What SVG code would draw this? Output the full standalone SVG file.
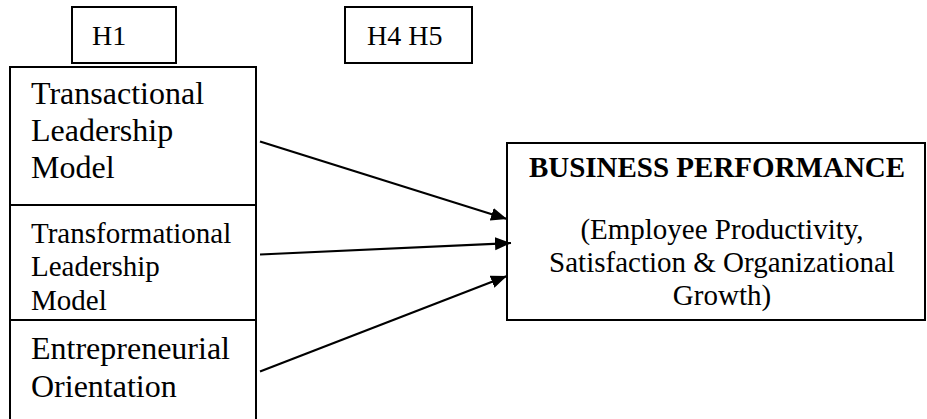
<svg xmlns="http://www.w3.org/2000/svg" width="927" height="419" viewBox="0 0 927 419">
<style>
.box{fill:#fff;stroke:#000;stroke-width:2}
.t{font-family:"Liberation Serif","Times New Roman",serif;fill:#000}
.c{text-anchor:middle}
.b{font-weight:bold}
.ln{stroke:#000;stroke-width:2.2;fill:none;marker-end:url(#ah)}
</style>
<defs>
<marker id="ah" markerUnits="userSpaceOnUse" markerWidth="18" markerHeight="14" refX="16" refY="6.5" orient="auto">
<path d="M0,0 L16,6.5 L0,13 z" fill="#000"/>
</marker>
</defs>
<g id="h1">
<rect class="box" x="72" y="7" width="104" height="56"/>
<text class="t" x="92" y="45" font-size="28">H1</text>
</g>
<g id="h4h5">
<rect class="box" x="345" y="7" width="127" height="56"/>
<text class="t" x="367" y="45" font-size="28">H4 H5</text>
</g>
<g id="transactional">
<rect class="box" x="10" y="67" width="246" height="138"/>
<text class="t" font-size="32"><tspan x="31" y="104">Transactional</tspan><tspan x="31" y="141">Leadership</tspan><tspan x="31" y="178">Model</tspan></text>
</g>
<g id="transformational">
<rect class="box" x="10" y="205" width="246" height="115"/>
<text class="t" font-size="29"><tspan x="31" y="243">Transformational</tspan><tspan x="31" y="276">Leadership</tspan><tspan x="31" y="310">Model</tspan></text>
</g>
<g id="entrepreneurial">
<rect class="box" x="10" y="320" width="246" height="110"/>
<text class="t" font-size="32"><tspan x="31" y="359">Entrepreneurial</tspan><tspan x="31" y="397">Orientation</tspan></text>
</g>
<g id="business">
<rect class="box" x="507" y="143" width="418" height="177"/>
<text class="t c b" x="717" y="177" font-size="29">BUSINESS PERFORMANCE</text>
<text class="t c" font-size="29"><tspan x="722" y="239">(Employee Productivity,</tspan><tspan x="722" y="272">Satisfaction &amp; Organizational</tspan><tspan x="722" y="305">Growth)</tspan></text>
</g>
<g id="connectors">
<line class="ln" x1="260" y1="141.5" x2="507" y2="219"/>
<line class="ln" x1="260" y1="254.5" x2="511" y2="243"/>
<line class="ln" x1="260" y1="371.5" x2="507" y2="276"/>
</g>
</svg>
